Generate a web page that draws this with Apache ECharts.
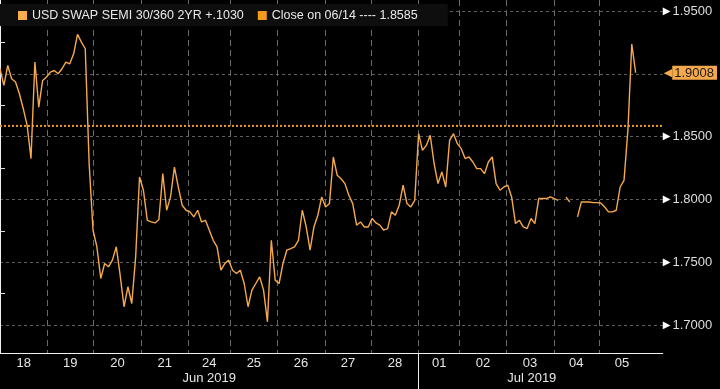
<!DOCTYPE html>
<html>
<head>
<meta charset="utf-8">
<script src="https://cdn.jsdelivr.net/npm/echarts@6/dist/echarts.min.js"></script>
<style>
html,body{margin:0;padding:0;background:#000;}
#chart{width:720px;height:389px;}
</style>
</head>
<body>
<div id="chart"></div>
<script>
// ---- data ----
const seriesName = 'USD SWAP SEMI 30/360 2YR +.1030';
const closeName = 'Close on 06/14 ---- 1.8585';
const days = ['18','19','20','21','24','25','26','27','28','01','02','03','04','05'];
// day start positions in sample units (one sample per slot)
const dayBounds = [0, 12.2, 24.1, 36.5, 48.5, 59.5, 71.5, 83.8, 95.8, 108, 118.6, 130.6, 142.9, 154.5, 166.4];
const months = ['Jun 2019', 'Jul 2019'];
const monthBounds = [0, 108, 166.4];
const yTicks = [1.70, 1.75, 1.80, 1.85, 1.90, 1.95];
const yMinorTicks = [1.725, 1.775, 1.825, 1.875, 1.925];
const closeValue = 1.8585;
const lastValue = 1.9008;
const swapValues = [
 1.9040,1.8907,1.9066,1.8960,1.8934,1.8841,1.8722,1.8589,1.8325,1.9093,1.8735,1.8947,
 1.8974,1.9013,1.9026,1.9000,1.9040,1.9093,1.9079,1.9159,1.9313,1.9252,1.9199,1.8285,
 1.7755,1.7623,1.7371,1.7490,1.7464,1.7517,1.7623,1.7397,1.7146,1.7305,1.7172,1.7543,
 1.8179,1.8073,1.7834,1.7821,1.7813,1.7840,1.8205,1.7914,1.8020,1.8258,1.8099,1.7954,
 1.7914,1.7901,1.7861,1.7914,1.7821,1.7834,1.7755,1.7675,1.7623,1.7437,1.7490,1.7517,
 1.7437,1.7411,1.7437,1.7331,1.7146,1.7278,1.7331,1.7384,1.7278,1.7026,1.7675,1.7358,
 1.7331,1.7490,1.7596,1.7609,1.7623,1.7675,1.7914,1.7781,1.7596,1.7781,1.7874,1.8020,
 1.7940,1.7967,1.8338,1.8192,1.8165,1.8126,1.8033,1.7967,1.7795,1.7821,1.7781,1.7781,
 1.7848,1.7813,1.7795,1.7755,1.7768,1.7901,1.7874,1.7954,1.8113,1.7967,1.7940,1.7993,
 1.8523,1.8391,1.8430,1.8510,1.8285,1.8126,1.8219,1.8099,1.8470,1.8523,1.8444,1.8404,
 1.8325,1.8338,1.8298,1.8245,1.8245,1.8205,1.8298,1.8338,1.8126,1.8073,1.8099,1.8113,
 1.8020,1.7808,1.7834,1.7781,1.7768,1.7848,1.7808,1.8007,1.8007,1.8007,1.8020,1.8007,
 1.7993,null,1.8020,1.7980,null,1.7861,1.7980,1.7980,1.7980,1.7975,1.7975,1.7972,
 1.7940,1.7901,1.7901,1.7914,1.8099,1.8152,1.8550,1.9236,1.9008
];

// ---- derived ----
const X_MAX = 171;
const dayCenters = days.map((d, i) => (dayBounds[i] + dayBounds[i + 1]) / 2);
const monthCenters = months.map((m, i) => (monthBounds[i] + monthBounds[i + 1]) / 2);
const FONT = '"Liberation Sans", Arial, sans-serif';
const LINE_COLOR = '#f6a94c';
const CLOSE_COLOR = '#f19a22';
function nearest(list, v) {
  let k = 0, best = 1e9;
  list.forEach((c, i) => { if (Math.abs(c - v) < best) { best = Math.abs(c - v); k = i; } });
  return k;
}

const chart = echarts.init(document.getElementById('chart'), null, {renderer: 'canvas'});
chart.setOption({
  backgroundColor: '#000',
  animation: false,
  textStyle: {fontFamily: FONT},
  grid: {left: 0, right: 52, top: 0, bottom: 36, containLabel: false},
  legend: {
    left: 0, top: 4,
    padding: [5, 30, 4, 18],
    backgroundColor: '#0e0e0e',
    itemWidth: 9, itemHeight: 9, itemGap: 14,
    icon: 'rect',
    textStyle: {color: '#e8e8e8', fontSize: 12.5, fontFamily: FONT},
    data: [seriesName, closeName]
  },
  graphic: [{
    type: 'group', left: 8, top: 12, z: 100,
    children: [
      {type: 'rect', shape: {x: 0.5, y: 0.5, width: 5, height: 5}, style: {fill: 'none', stroke: '#8a8a8a', lineWidth: 1}},
      {type: 'line', shape: {x1: 1.5, y1: 3, x2: 4.5, y2: 3}, style: {stroke: '#8a8a8a', lineWidth: 1}},
      {type: 'line', shape: {x1: 3, y1: 5.5, x2: 3, y2: 9}, style: {stroke: '#8a8a8a', lineWidth: 1}}
    ]
  }],
  xAxis: [{
    type: 'value', min: 0, max: X_MAX, position: 'bottom',
    axisLine: {show: true, onZero: false, lineStyle: {color: '#f0f0f0', width: 1}},
    axisTick: {show: false, customValues: dayBounds.slice(0, -1)},
    splitLine: {show: true, lineStyle: {color: '#6a6a6a', type: [6, 4], width: 1}},
    axisLabel: {
      customValues: dayCenters, margin: 4,
      color: '#e6e6e6', fontSize: 13, fontFamily: FONT,
      formatter: v => days[nearest(dayCenters, v)]
    }
  }, {
    type: 'value', min: 0, max: X_MAX, position: 'bottom', offset: 0,
    axisLine: {show: false},
    axisTick: {show: true, customValues: [monthBounds[1]], length: 37, lineStyle: {color: '#f0f0f0', width: 1}},
    splitLine: {show: false},
    axisLabel: {
      customValues: monthCenters, margin: 19,
      color: '#e6e6e6', fontSize: 13, fontFamily: FONT,
      formatter: v => months[nearest(monthCenters, v)]
    }
  }],
  yAxis: [{
    type: 'value', min: 1.6778, max: 1.9587, position: 'right',
    axisLine: {show: true, lineStyle: {color: '#f0f0f0', width: 1}},
    axisTick: {show: false, customValues: yTicks},
    splitLine: {show: true, lineStyle: {color: '#5e5e5e', type: [3, 3], width: 1}},
    axisLabel: {
      customValues: yTicks.filter(v => Math.abs(v - lastValue) > 0.01),
      margin: 0,
      formatter: v => '{t|▶}{v|' + v.toFixed(4) + '}',
      rich: {
        t: {color: '#ffffff', fontSize: 10, fontFamily: 'DejaVu Sans'},
        v: {color: '#dedede', fontSize: 13, fontFamily: FONT, padding: [0, 0, 0, 2]}
      }
    }
  }, {
    type: 'value', min: 1.6778, max: 1.9587, position: 'right', offset: 0,
    axisLine: {show: false},
    axisTick: {show: true, customValues: yMinorTicks, length: 5, lineStyle: {color: '#e0e0e0', width: 1}},
    splitLine: {show: false},
    axisLabel: {show: false}
  }, {
    type: 'value', min: 1.6778, max: 1.9587, position: 'right', offset: 0,
    axisLine: {show: false},
    axisTick: {show: false, customValues: [lastValue]},
    splitLine: {show: false},
    axisLabel: {
      customValues: [lastValue], margin: 1,
      formatter: v => '{t|◀}{b|' + v.toFixed(4) + '}',
      rich: {
        t: {color: LINE_COLOR, fontSize: 11, fontFamily: 'DejaVu Sans'},
        b: {color: '#1a1a1a', backgroundColor: LINE_COLOR, fontSize: 13, fontFamily: FONT, padding: [1, 3, 0, 2], lineHeight: 14}
      }
    }
  }],
  series: [{
    name: seriesName, type: 'line', xAxisIndex: 0, yAxisIndex: 0,
    data: swapValues.map((v, i) => [i, v]),
    showSymbol: false, connectNulls: false, silent: true,
    itemStyle: {color: '#fbad4c'},
    lineStyle: {color: LINE_COLOR, width: 1.4},
    z: 3
  }, {
    name: closeName, type: 'line', xAxisIndex: 0, yAxisIndex: 0,
    data: [[0, closeValue], [X_MAX, closeValue]],
    showSymbol: false, silent: true,
    itemStyle: {color: '#f39b1d'},
    lineStyle: {color: CLOSE_COLOR, width: 2, type: [2, 2]},
    z: 2
  }]
});
</script>
</body>
</html>
